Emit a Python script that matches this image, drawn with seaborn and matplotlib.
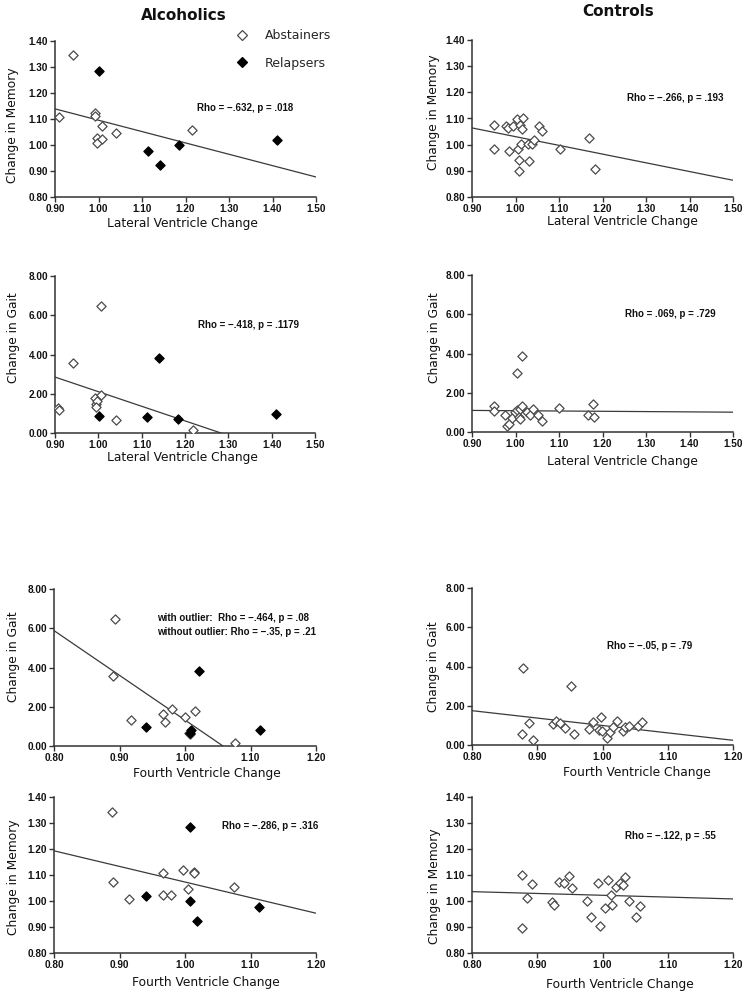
import matplotlib
matplotlib.use('Agg')
import matplotlib.pyplot as plt
import seaborn as sns
from matplotlib.lines import Line2D

sns.set_theme(style='ticks')
plt.rcParams['font.family'] = ['DejaVu Sans']

# ---------------- data ----------------
# Alcoholics: lateral ventricle change vs change in memory
alc_lat_mem_abs_x = [0.909, 0.942, 0.993, 0.993, 1.007, 0.997, 0.996, 1.007, 1.041, 1.216]
alc_lat_mem_abs_y = [1.107, 1.346, 1.122, 1.112, 1.074, 1.027, 1.007, 1.023, 1.048, 1.056]
alc_lat_mem_rel_x = [1.002, 1.113, 1.142, 1.186, 1.410]
alc_lat_mem_rel_y = [1.285, 0.978, 0.924, 1.000, 1.020]
alc_lat_mem_fit_x = [0.90, 1.50]
alc_lat_mem_fit_y = [1.139, 0.877]

# Controls: lateral ventricle change vs change in memory
con_lat_mem_x = [0.951, 0.951, 0.979, 0.982, 0.986, 0.994, 1.004, 1.005, 1.007, 1.007, 1.011, 1.012,
                 1.016, 1.017, 1.028, 1.031, 1.038, 1.042, 1.054, 1.062, 1.103, 1.168, 1.183]
con_lat_mem_y = [1.074, 0.985, 1.072, 1.065, 0.976, 1.072, 1.097, 0.985, 0.940, 0.898, 1.077, 1.002,
                 1.059, 1.100, 1.002, 0.937, 1.002, 1.017, 1.072, 1.053, 0.982, 1.027, 0.906]
con_lat_mem_fit_x = [0.90, 1.50]
con_lat_mem_fit_y = [1.064, 0.864]

# Alcoholics: lateral ventricle change vs change in gait
alc_lat_gait_abs_x = [0.907, 0.909, 0.941, 1.007, 0.992, 0.994, 0.997, 0.995, 1.007, 1.040, 1.218]
alc_lat_gait_abs_y = [1.28, 1.19, 3.57, 6.49, 1.80, 1.49, 1.63, 1.32, 1.92, 0.68, 0.17]
alc_lat_gait_rel_x = [1.001, 1.113, 1.141, 1.183, 1.410]
alc_lat_gait_rel_y = [0.85, 0.83, 3.84, 0.70, 0.97]
alc_lat_gait_fit_x = [0.90, 1.283]
alc_lat_gait_fit_y = [2.85, 0.00]

# Controls: lateral ventricle change vs change in gait
con_lat_gait_x = [0.951, 0.950, 0.976, 0.980, 0.984, 0.993, 0.999, 1.004, 1.003, 1.007, 1.010, 1.011,
                  1.014, 1.016, 1.026, 1.033, 1.041, 1.051, 1.062, 1.101, 1.166, 1.178, 1.180]
con_lat_gait_y = [1.32, 1.07, 0.88, 0.32, 0.39, 0.73, 1.00, 3.02, 1.10, 0.76, 0.65, 1.19,
                  1.31, 3.89, 1.02, 0.85, 1.15, 0.85, 0.58, 1.21, 0.87, 1.44, 0.75]
con_lat_gait_fit_x = [0.90, 1.50]
con_lat_gait_fit_y = [1.10, 1.01]

# Alcoholics: fourth ventricle change vs change in gait
alc_4th_gait_abs_x = [0.893, 0.890, 0.917, 0.967, 0.969, 0.980, 1.000, 1.015, 1.006, 1.008, 1.077]
alc_4th_gait_abs_y = [6.48, 3.55, 1.31, 1.64, 1.21, 1.86, 1.48, 1.79, 0.67, 0.60, 0.15]
alc_4th_gait_rel_x = [0.940, 1.009, 1.008, 1.021, 1.114]
alc_4th_gait_rel_y = [0.97, 0.84, 0.68, 3.82, 0.80]
alc_4th_gait_fit_x = [0.80, 1.058]
alc_4th_gait_fit_y = [5.88, 0.00]

# Controls: fourth ventricle change vs change in gait
con_4th_gait_x = [0.878, 0.877, 0.887, 0.894, 0.924, 0.928, 0.935, 0.943, 0.952, 0.956, 0.979, 0.985,
                  0.997, 0.995, 0.999, 1.007, 1.012, 1.016, 1.022, 1.032, 1.034, 1.040, 1.055, 1.061]
con_4th_gait_y = [3.91, 0.58, 1.14, 0.26, 1.06, 1.24, 1.11, 0.87, 3.01, 0.58, 0.83, 1.16,
                  1.43, 0.78, 0.70, 0.34, 0.65, 0.90, 1.24, 0.71, 0.94, 0.99, 0.95, 1.17]
con_4th_gait_fit_x = [0.80, 1.20]
con_4th_gait_fit_y = [1.75, 0.24]

# Alcoholics: fourth ventricle change vs change in memory
alc_4th_mem_abs_x = [0.888, 0.890, 0.915, 0.966, 0.967, 0.978, 0.997, 1.004, 1.013, 1.014, 1.075]
alc_4th_mem_abs_y = [1.344, 1.073, 1.009, 1.023, 1.108, 1.023, 1.120, 1.048, 1.113, 1.109, 1.055]
alc_4th_mem_rel_x = [0.940, 1.007, 1.007, 1.019, 1.113]
alc_4th_mem_rel_y = [1.021, 1.283, 1.000, 0.924, 0.977]
alc_4th_mem_fit_x = [0.80, 1.20]
alc_4th_mem_fit_y = [1.193, 0.953]

# Controls: fourth ventricle change vs change in memory
con_4th_mem_x = [0.876, 0.876, 0.884, 0.892, 0.922, 0.926, 0.933, 0.941, 0.949, 0.954, 0.976, 0.983, 0.993,
                 0.996, 1.004, 1.009, 1.013, 1.014, 1.020, 1.027, 1.031, 1.034, 1.040, 1.052, 1.058]
con_4th_mem_y = [1.099, 0.898, 1.013, 1.064, 0.998, 0.984, 1.074, 1.071, 1.097, 1.051, 1.000, 0.940, 1.069,
                 0.905, 0.975, 1.081, 1.025, 0.983, 1.055, 1.071, 1.060, 1.092, 0.999, 0.937, 0.982]
con_4th_mem_fit_x = [0.80, 1.20]
con_4th_mem_fit_y = [1.036, 1.008]

lat_ticks = [0.90, 1.00, 1.10, 1.20, 1.30, 1.40, 1.50]
fourth_ticks = [0.80, 0.90, 1.00, 1.10, 1.20]
mem_ticks = [0.80, 0.90, 1.00, 1.10, 1.20, 1.30, 1.40]
gait_ticks = [0.00, 2.00, 4.00, 6.00, 8.00]

titles = ['Alcoholics', 'Controls']
legend_labels = ['Abstainers', 'Relapsers']

# ---------------- styling ----------------
W, H = 751, 996
fig = plt.figure(figsize=(W / 100, H / 100), dpi=100)
fig.patch.set_facecolor('white')

TICK_FONT = dict(family=['Liberation Sans', 'DejaVu Sans'], weight='bold', size=7.2)
RHO_FONT = dict(family=['Liberation Sans', 'DejaVu Sans'], weight='bold', size=7)
LABEL_FONT = dict(family=['DejaVu Sans'], size=8.8)
OPEN_EDGE = '#4a4a4a'
LINE_C = '#3a3a3a'


def rect(l, top, w, bottom):
    return [l / W, 1 - bottom / H, w / W, (bottom - top) / H]


def panel(r, abs_x, abs_y, rel_x, rel_y, fit_x, fit_y, xticks, yticks,
          xlabel, ylabel, xlab_pos, ylab_pos, rho_lines, rho_xy):
    ax = fig.add_axes(r)
    sns.lineplot(x=fit_x, y=fit_y, ax=ax, color=LINE_C, lw=0.9, estimator=None,
                 sort=False, zorder=2)
    sns.scatterplot(x=abs_x, y=abs_y, ax=ax, marker='D', s=22, color='white',
                    edgecolor=OPEN_EDGE, linewidth=0.9, zorder=3)
    if rel_x is not None:
        sns.scatterplot(x=rel_x, y=rel_y, ax=ax, marker='D', s=22, color='black',
                        edgecolor='black', linewidth=0.9, zorder=4)
    ax.set_xlim(xticks[0], xticks[-1])
    ax.set_ylim(yticks[0], yticks[-1])
    ax.set_xticks(xticks)
    ax.set_yticks(yticks)
    ax.set_xticklabels([f'{t:.2f}' for t in xticks], **TICK_FONT)
    ax.set_yticklabels([f'{t:.2f}' for t in yticks], **TICK_FONT)
    ax.tick_params(direction='out', length=3.5, width=1, color='#333', pad=1.5,
                   labelcolor='#111')
    for s in ['top', 'right']:
        ax.spines[s].set_visible(False)
    for s in ['left', 'bottom']:
        ax.spines[s].set_linewidth(1.1)
        ax.spines[s].set_color('#333')
    ax.set_facecolor('white')
    ax.set_xlabel(xlabel, **LABEL_FONT, color='#111')
    ax.set_ylabel(ylabel, **LABEL_FONT, color='#111')
    ax.xaxis.label.set_va('center')
    ax.yaxis.label.set_va('center')
    ax.xaxis.set_label_coords(*xlab_pos)
    ax.yaxis.set_label_coords(*ylab_pos)
    for i, line in enumerate(rho_lines):
        ax.text(rho_xy[0], rho_xy[1] - i * rho_xy[2], line, ha='left', va='center',
                color='#111', **RHO_FONT)
    return ax


ax1 = panel(rect(55, 41, 261, 197), alc_lat_mem_abs_x, alc_lat_mem_abs_y,
            alc_lat_mem_rel_x, alc_lat_mem_rel_y, alc_lat_mem_fit_x, alc_lat_mem_fit_y,
            lat_ticks, mem_ticks, 'Lateral Ventricle Change', 'Change in Memory',
            (0.49, -0.17), (-0.161, 0.46), ['Rho = \u2212.632, p = .018'], (1.226, 1.142, 0))

panel(rect(472, 40, 261, 197), con_lat_mem_x, con_lat_mem_y, None, None,
      con_lat_mem_fit_x, con_lat_mem_fit_y, lat_ticks, mem_ticks,
      'Lateral Ventricle Change', 'Change in Memory',
      (0.575, -0.153), (-0.149, 0.54), ['Rho = \u2212.266, p = .193'], (1.256, 1.178, 0))

panel(rect(55, 276, 260, 433), alc_lat_gait_abs_x, alc_lat_gait_abs_y,
      alc_lat_gait_rel_x, alc_lat_gait_rel_y, alc_lat_gait_fit_x, alc_lat_gait_fit_y,
      lat_ticks, gait_ticks, 'Lateral Ventricle Change', 'Change in Gait',
      (0.49, -0.153), (-0.161, 0.605), ['Rho = \u2212.418, p = .1179'], (1.231, 5.50, 0))

panel(rect(472, 275, 261, 432), con_lat_gait_x, con_lat_gait_y, None, None,
      con_lat_gait_fit_x, con_lat_gait_fit_y, lat_ticks, gait_ticks,
      'Lateral Ventricle Change', 'Change in Gait',
      (0.575, -0.185), (-0.142, 0.6), ['Rho = .069, p = .729'], (1.252, 6.01, 0))

panel(rect(54, 589, 262, 746), alc_4th_gait_abs_x, alc_4th_gait_abs_y,
      alc_4th_gait_rel_x, alc_4th_gait_rel_y, alc_4th_gait_fit_x, alc_4th_gait_fit_y,
      fourth_ticks, gait_ticks, 'Fourth Ventricle Change', 'Change in Gait',
      (0.584, -0.178), (-0.156, 0.567),
      ['with outlier:  Rho = \u2212.464, p = .08', 'without outlier: Rho = \u2212.35, p = .21'],
      (0.957, 6.52, 0.71))

panel(rect(472, 588, 261, 745), con_4th_gait_x, con_4th_gait_y, None, None,
      con_4th_gait_fit_x, con_4th_gait_fit_y, fourth_ticks, gait_ticks,
      'Fourth Ventricle Change', 'Change in Gait',
      (0.633, -0.172), (-0.149, 0.497), ['Rho = \u2212.05, p = .79'], (1.007, 5.04, 0))

panel(rect(54, 797, 262, 953), alc_4th_mem_abs_x, alc_4th_mem_abs_y,
      alc_4th_mem_rel_x, alc_4th_mem_rel_y, alc_4th_mem_fit_x, alc_4th_mem_fit_y,
      fourth_ticks, mem_ticks, 'Fourth Ventricle Change', 'Change in Memory',
      (0.58, -0.186), (-0.156, 0.487), ['Rho = \u2212.286, p = .316'], (1.056, 1.288, 0))

panel(rect(472, 797, 261, 953), con_4th_mem_x, con_4th_mem_y, None, None,
      con_4th_mem_fit_x, con_4th_mem_fit_y, fourth_ticks, mem_ticks,
      'Fourth Ventricle Change', 'Change in Memory',
      (0.567, -0.205), (-0.142, 0.43), ['Rho = \u2212.122, p = .55'], (1.034, 1.25, 0))

# titles
fig.text(184 / W, 1 - 16 / H, titles[0], ha='center', va='center',
         family='DejaVu Sans', weight='bold', size=11, color='#111')
fig.text(618 / W, 1 - 12 / H, titles[1], ha='center', va='center',
         family='DejaVu Sans', weight='bold', size=11, color='#111')

# legend
handles = [Line2D([], [], ls='none', marker='D', markersize=4.6, markerfacecolor='white',
                  markeredgecolor=OPEN_EDGE, markeredgewidth=0.9),
           Line2D([], [], ls='none', marker='D', markersize=4.6, markerfacecolor='black',
                  markeredgecolor='black', markeredgewidth=0.9)]
fig.legend(handles, legend_labels, loc='upper left',
           bbox_to_anchor=(235.75 / W, 1 - 29 / H), frameon=False,
           prop=dict(family='DejaVu Sans', size=9), handlelength=1.0,
           handletextpad=1.34, labelspacing=1.16, borderpad=0, borderaxespad=0)

fig.savefig('out.png', dpi=100, facecolor='white')
